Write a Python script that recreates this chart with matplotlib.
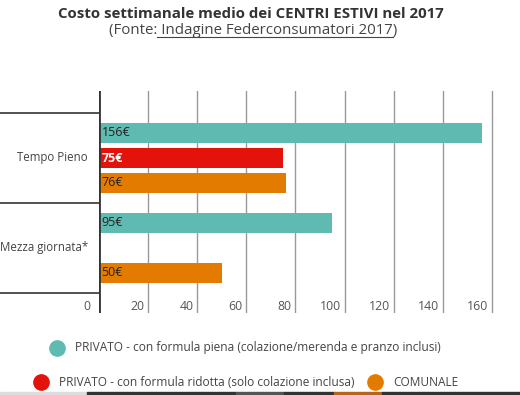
import matplotlib
matplotlib.use("Agg")
import matplotlib.pyplot as plt
from matplotlib.patches import Rectangle

plt.rcParams['font.family'] = ['Open Sans', 'DejaVu Sans']

# data
groups = ["Tempo Pieno", "Mezza giornata*"]
series = ["PRIVATO - con formula piena (colazione/merenda e pranzo inclusi)",
          "PRIVATO - con formula ridotta (solo colazione inclusa)",
          "COMUNALE"]
values = [
    [156, 95],      # privato piena
    [75, None],     # privato ridotta
    [76, 50],       # comunale
]
colors = ["#5FBAB1", "#E3120B", "#E37B00"]
label_colors = ["#222222", "#ffffff", "#222222"]
xticks = [0, 20, 40, 60, 80, 100, 120, 140, 160]

W, H = 520, 395
fig = plt.figure(figsize=(W / 100, H / 100), dpi=100)

def fx(px):
    return px / W

def fy(py):
    return 1 - py / H

ax_left, ax_top, ax_bottom = 99, 91, 313
ax = fig.add_axes([fx(ax_left), fy(ax_bottom), 1 - fx(ax_left), (ax_bottom - ax_top) / H])
ax.set_xlim(0, (W - ax_left) / 2.455)
ax.set_ylim(1.5 + 20 / 90, -0.5 - 22 / 90)
ax.axis('off')

# grid lines
for t in xticks[1:]:
    ax.axvline(t, color='#999999', lw=1, zorder=0)
    ax.text(t - 1.5, 1.65, str(t), ha='right', va='center', fontsize=8.8, color='#555555')
ax.text(-3.5, 1.65, "0", ha='right', va='center', fontsize=8.8, color='#555555', clip_on=False)
ax.axvline(0, color='#333333', lw=2, zorder=3)

offsets = [-25 / 90, 0, 25 / 90]
bar_h = 20 / 90
for s, (vals, c, lc) in enumerate(zip(values, colors, label_colors)):
    for g, v in enumerate(vals):
        if v is None:
            continue
        y = g + offsets[s]
        ax.barh(y, v, height=bar_h, color=c, zorder=2)
        ax.text(1, y, f"{v}€", ha='left', va='center', fontsize=9, color=lc,
                fontweight='bold' if lc == '#ffffff' else 'normal', zorder=4)

# group separators and labels
for b in [-0.5, 0.5, 1.5]:
    ax.plot([-ax_left / 2.455, 0], [b, b], color='#333333', lw=1.2, clip_on=False)
for g, name in enumerate(groups):
    ax.text(-4.5, g, name, ha='right', va='center', fontsize=8.3, color='#444444', clip_on=False)

# title
fig.text(fx(251), fy(14), "Costo settimanale medio dei CENTRI ESTIVI nel 2017", ha='center', va='center',
         fontsize=10.8, fontweight='bold', color='#333333')
sub = fig.text(fx(253), fy(31), "(Fonte: Indagine Federconsumatori 2017)", ha='center', va='center',
               fontsize=10.8, color='#444444')
fig.canvas.draw()
r = fig.canvas.get_renderer()
bb = sub.get_window_extent(r)
pre = fig.text(0, 0, "(Fonte:", fontsize=10.8)
wpre = pre.get_window_extent(r).width
pre.remove()
fig.add_artist(plt.Line2D([(bb.x0 + wpre) / W, (bb.x1 - 4) / W], [bb.y0 / H + 0.004, bb.y0 / H + 0.004],
                          color='#444444', lw=0.8, transform=fig.transFigure))

# legend
legend_pos = [(57, 348), (41, 382), (375, 382)]
for (px, py), c, name in zip(legend_pos, colors, series):
    fig.add_artist(plt.Line2D([fx(px)], [fy(py)], marker='o', markersize=11, color=c,
                              transform=fig.transFigure))
    fig.text(fx(px + 18), fy(py), name, ha='left', va='center', fontsize=8.6, color='#444444')

# bottom strip
strip = [(0, 87, '#dddddd'), (87, 236, '#333333'), (236, 284, '#555555'),
         (284, 334, '#333333'), (334, 382, '#b5651d'), (382, 520, '#333333')]
for x0, x1, c in strip:
    fig.add_artist(Rectangle((fx(x0), 0), fx(x1 - x0), 3 / H, color=c, transform=fig.transFigure))

fig.savefig("out.png", dpi=100)
